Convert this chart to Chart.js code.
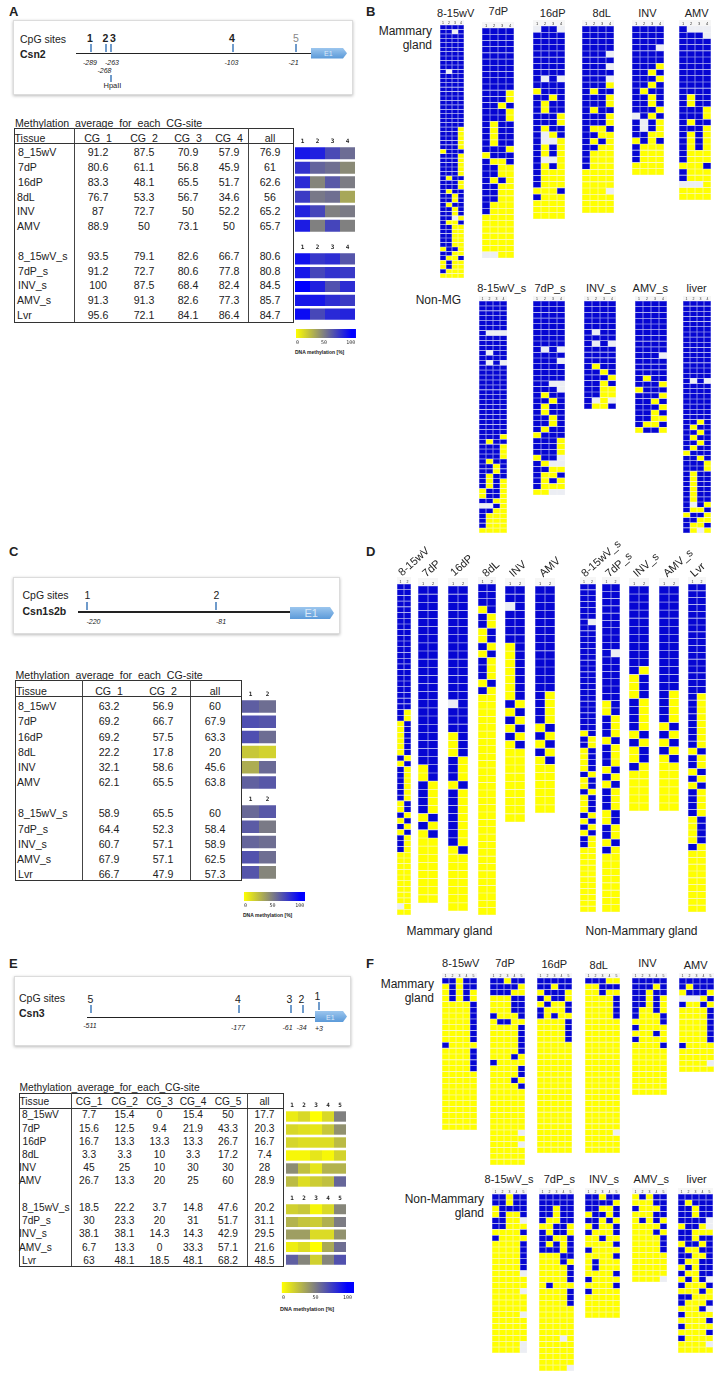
<!DOCTYPE html>
<html>
<head>
<meta charset="utf-8">
<script src="https://cdn.jsdelivr.net/npm/chart.js@4"></script>
<style>
  html, body { margin: 0; padding: 0; background: #fff; }
  #page { position: relative; width: 719px; height: 1376px; overflow: hidden; font-family: "Liberation Sans", Arial, sans-serif; color: #222; }
  #page div, #page canvas, #page svg { position: absolute; }
  .t { white-space: nowrap; line-height: 1; }
  .box { background: #fff; border: 1px solid #dcdcdc; box-shadow: 0 1px 3px #bbb; box-sizing: border-box; }
</style>
</head>
<body>
<div id="page"></div>
<script>
// Tissues used in the three summary tables
const tissues = ['8_15wV', '7dP', '16dP', '8dL', 'INV', 'AMV', '8_15wV_s', '7dP_s', 'INV_s', 'AMV_s', 'Lvr'];

// Csn2 averages
const csn2Cg1 = [91.2, 80.6, 83.3, 76.7, 87, 88.9, 93.5, 91.2, 100, 91.3, 95.6];
const csn2Cg2 = [87.5, 61.1, 48.1, 53.3, 72.7, 50, 79.1, 72.7, 87.5, 91.3, 72.1];
const csn2Cg3 = [70.9, 56.8, 65.5, 56.7, 50, 73.1, 82.6, 80.6, 68.4, 82.6, 84.1];
const csn2Cg4 = [57.9, 45.9, 51.7, 34.6, 52.2, 50, 66.7, 77.8, 82.4, 77.3, 86.4];
const csn2All = [76.9, 61, 62.6, 56, 65.2, 65.7, 80.6, 80.8, 84.5, 85.7, 84.7];

// Csn1s2b averages
const csn1Cg1 = [63.2, 69.2, 69.2, 22.2, 32.1, 62.1, 58.9, 64.4, 60.7, 67.9, 66.7];
const csn1Cg2 = [56.9, 66.7, 57.5, 17.8, 58.6, 65.5, 65.5, 52.3, 57.1, 57.1, 47.9];
const csn1All = [60, 67.9, 63.3, 20, 45.6, 63.8, 60, 58.4, 58.9, 62.5, 57.3];

// Csn3 averages
const csn3Cg1 = [7.7, 15.6, 16.7, 3.3, 45, 26.7, 18.5, 30, 38.1, 6.7, 63];
const csn3Cg2 = [15.4, 12.5, 13.3, 3.3, 25, 13.3, 22.2, 23.3, 38.1, 13.3, 48.1];
const csn3Cg3 = [0, 9.4, 13.3, 10, 10, 20, 3.7, 20, 14.3, 0, 18.5];
const csn3Cg4 = [15.4, 21.9, 13.3, 3.3, 30, 25, 14.8, 31, 14.3, 33.3, 48.1];
const csn3Cg5 = [50, 43.3, 26.7, 17.2, 30, 60, 47.6, 51.7, 42.9, 57.1, 68.2];
const csn3All = [17.7, 20.3, 16.7, 7.4, 28, 28.9, 20.2, 31.1, 29.5, 21.6, 48.5];

// Clone tables, top row first: B methylated, Y unmethylated, W no call, *n = n rows alike
const b_8_15wV = ['BBBB','BBWB','BBBB*8','BWBB','BBBB*12','BBBY*5','YBBB','BBBY*5','BYBB','BBBY*2','BYBB','BBYB*2','BYBB','BBYB*2','BBWY','BYYB','BBYY*5','YBBY','BBYY','BYYB','YBYY*2','BYYY','YYYY'];
const b_7dP = ['BBBB*10','BBBY*2','BBYB','BBBY*2','BYBB*4','BBBY','YBBB','BYYB','BBYY*2','BYBY','BBYY*3','BYYY*2','YYYY*6','WWYY'];
const b_16dP = ['WBBW','BBBB*7','BWBW','BBBB','YBBB','BBYB','BYBB*2','BBBY*2','BYBB','BWYB','BWWY','BYBY*2','BWWY','BYBY','BYYY*3','YYYB','BYYY','YYYY*3'];
const b_8dL = ['BBBB*4','BBBW','BBBB','BBBW','BBBB','BBBW','BBBY','BYBB','BBBY*2','BYBB','BBBY*2','BYYB','BBYY','BYBY','BBYY','BYYY*3','YYYY*3','YYYW','YYYY*3'];
const b_INV = ['BBBB*3','BBBW','BBBB*2','BBBY','BBYB','BBBY','BBYB','BYBB','BBYB*2','BBBY','WBYB','BWBY*2','BBYY','YBYB','BYYY*3','YYYY*2'];
const b_AMV = ['BWWW','BBBW','BBBB*9','BYBB*2','BBBY*2','BYBB','BBBY','BYBY*3','BYYY*2','YYYB','BYYY*2','WWWY','YYYY*2'];
const b_8_15wV_s = ['BBBB*6','BWWW','BBBB*3','BWBB','BBBB','BWBW','BBBB*14','BBBY','BYBB','BBBY*3','BYBB','BBYB*2','BYBB','BYBY*2','YBBY*2','BBYY','WWBY','BBYY','BYYY*3','YYYY'];
const b_7dP_s = ['BBBB*8','BWBW','BBBB','BBBW','BBBB*3','BBWW','BBBW','BYBB','BBYB','BYBB*2','BBYB*2','BYBB','YBBB','BBBY*3','YBBW','BYWW','BBYY','BYYB','BYBY','BYYY','YYWW'];
const b_INV_s = ['BBBB*5','BWBB','BBBB','BWBW','BBBB*3','BYBB','BBYB','BBBY','BBYB','BBYY*2','BWYW','BYYB'];
const b_AMV_s = ['BBBB*9','BBBW','BBBB*3','BYBB','BBBY','YBBB','BBBY','BBYB','BBBY','BBYB','BBYY','BYYB','YBBY'];
const b_liver = ['BBBB*15','BWBW','BBBB*7','BBYB','BYBB','BBYB','BYBB','BBYB','BYBB','YBBB','BBYB','BBBY*2','BYBB*6','BWBY','BYYB','YBBY','BBYY','BYYB','BYWY'];

const d_8_15wV = ['BB*22','BY*2','YB*6','BY','YB','BY*6','YB*2','BY','YB','BY','YB','BY*3','YY*9','WY','YY'];
const d_7dP = ['BB*22','YB*2','BY*4','YB','BY','YB','YY*8'];
const d_16dP = ['BB*14','WB','BB*3','YB*3','BY*3','YB','BY*7','YB','YY*7'];
const d_8dL = ['BB*3','YB','BY*2','YB*2','BY','YB','BY*3','YB','BY','YY*30'];
const d_INV = ['BB*2','WB','BB*4','YB*7','BY','YB','BY','YB','BY','YB','YY*9'];
const d_AMV = ['BB*13','BY*4','YB','BY','YB','BY','YB','YY*6'];
const d_8_15wV_s = ['BB*6','BW','BB*18','YB','BY*2','YB*4','BY','YB*2','BY','YB*3','BY','YB','BY','YB','BY*2','YY*11'];
const d_7dP_s = ['BB*9','BW','BB*6','YB*2','BY*3','YB','BY*3','YB','BY','YB','BY*3','YB*2','BY*2','YB','BY','YY*8'];
const d_INV_s = ['BB*10','BY','YB*3','BY*4','YB','BY','YB*2','BY','YY*5'];
const d_AMV_s = ['BB*13','BY*4','YB','BY','YB','BY','YB','YY*6'];
const d_Lvr = ['BB*16','BY*8','YB','BY*2','YB','BY','YB','BY*4','YB*4','BY','YY*9'];

const f_8_15wV = ['BBYBB','YBYBB','YBYBY*2','YYYYB*7','BYYYY','YYYYB*4','YYYYY*10'];
const f_7dP = ['BBYBB','BBBBY','BBBYY','YYYBB*3','BYYYB','YBBYY','YYYYB*5','YYYBY','BYYYY','YYYYB*2','YYYBY','YYYYB','YYYYY*7','YYYYW','YYYYY','YYYYW','YYYYY*3'];
const f_16dP = ['BBBBB','BBYBB','YBBBY','BYBBY','YBYYB','BYYYB','BYBYY','YYYYB*4','YYYYY*19'];
const f_8dL = ['BBBYY','YYBBB','YYBYY','YYYYB*4','YYYYY*19','YYYYW','YYYYY*3'];
const f_INV = ['BBBBB','BBBYB','BBYBB','BBYBY*2','BYYBY','BYYYB','YYYYB','BYYYY','YYYBY','BYYYY','YYYYB','YYYYY*8'];
const f_AMV = ['BBBBB','BYBBB','YBBBY','WWWYB','BYYBY','YYYYB*6','BYYYY','YYYYY*2','YYYYW','YYYYY'];
const f_8_15wV_s = ['BBYBB*2','YBBBB','YBYYB','BBYYW','BBYYY','YYYYB','BYYYY','YYYYB*5','YYYYW','YYYYY*2','YYYYW','YYYYY*3','YYYYW','YYYYY*4','YYYYW*2'];
const f_7dP_s = ['BBBBB*2','BBYBB*2','BYYBB','YYBBY','BYBBY','BBYYB','BYBYB','BBBYB','YYYBB','YYYBY','YYYYB*3','YBYYY','YYYYB*3','YYYYY*5','YYYWY','YYYYY*4','YYYYW'];
const f_INV_s = ['BBYBB','BBBBY','BBYYB','YBBYB','BBYBY','YBYYB','BYYYB','YYBYY','YYYYB','BYYYY','YYYYB','YBYYY*2','YYYYB','BYYYY','YYYYB','BYYYY','YYYYY*4'];
const f_AMV_s = ['YBYBB','YYYBB','BYYYB','YYYBB','YBYBY','YYYYB','YYYBY','YYYYB*3','YYYYY*4','YYYYW'];
const f_liver = ['BBBBB','BYBBB','BBYBB*2','BBBBW','YBBYW','BBYYY','BBYBB','YBBYB','BYYBB','BBYYB','BYYBB','YBYBB','BYYBB','YBYBW','BYYYB','YYYBY','BBYYY','BYYYB','YYYBW','BYYYY','YYYYB','BYYYY','YYYYB','BYYYY','YYYYW','YYYYY'];

const sites2 = ['1', '2'];
const sites4 = ['1', '2', '3', '4'];
const sites5 = ['1', '2', '3', '4', '5'];
const legendTicks = [0, 50, 100];

const page = document.getElementById('page');
const stateColors = { B: '#0606d2', Y: '#ffff00', W: '#eceef4' };
const stateLines = { B: '#8a90f0', Y: '#fbfb90', W: '#eceef4' };

function label(x, y, text, o = {}) {
  const d = document.createElement('div');
  d.className = 't';
  d.textContent = text;
  d.style.left = x + 'px';
  d.style.top = y + 'px';
  d.style.fontSize = (o.size || 11) + 'px';
  if (o.bold) d.style.fontWeight = 'bold';
  if (o.italic) d.style.fontStyle = 'italic';
  if (o.color) d.style.color = o.color;
  const dx = o.align === 'center' ? '-50%' : o.align === 'right' ? '-100%' : '0';
  if (o.rotate) {
    d.style.transformOrigin = 'left center';
    d.style.transform = `translateY(-50%) rotate(${o.rotate}deg)`;
  } else {
    d.style.transform = `translate(${dx}, -50%)`;
  }
  page.appendChild(d);
}

function rect(x, y, w, h, color, cls) {
  const d = document.createElement('div');
  if (cls) d.className = cls; else d.style.background = color;
  d.style.left = x + 'px';
  d.style.top = y + 'px';
  d.style.width = w + 'px';
  d.style.height = h + 'px';
  page.appendChild(d);
}

function makeCanvas(x0, x1, y0, y1) {
  const c = document.createElement('canvas');
  const w = Math.round(x1 - x0), h = Math.round(y1 - y0);
  c.width = w;
  c.height = h;
  c.style.left = Math.round(x0) + 'px';
  c.style.top = Math.round(y0) + 'px';
  c.style.width = w + 'px';
  c.style.height = h + 'px';
  page.appendChild(c);
  return c;
}

const quiet = {
  responsive: false,
  animation: false,
  events: [],
  layout: { padding: 0 },
  plugins: { legend: { display: false }, tooltip: { enabled: false } }
};

// Clone table: one floating-bar dataset per state, each bar spans one row on the y scale
function cloneChart(rows, sites, x0, x1, y0, y1, hdr, hdrFont) {
  const list = rows.flatMap(r => {
    const [p, n] = r.split('*');
    return Array(Number(n || 1)).fill(p);
  });
  const datasets = Object.keys(stateColors).map(state => {
    const data = [];
    list.forEach((row, r) => {
      [...row].forEach((s, i) => {
        if (s === state) data.push({ x: sites[i], y: [r, r + 1] });
      });
    });
    return {
      data, grouped: false, backgroundColor: stateColors[state],
      borderColor: stateLines[state], borderWidth: 0.3, borderSkipped: false, inflateAmount: 0,
      barPercentage: 1, categoryPercentage: 1
    };
  });
  const c = makeCanvas(x0, x1, y0 - hdr, y1);
  c.style.background = '#f6f6f6';
  new Chart(c, {
    type: 'bar',
    data: { labels: sites, datasets },
    options: {
      ...quiet,
      scales: {
        x: {
          position: 'top',
          grid: { display: false, drawTicks: false },
          border: { display: false },
          afterFit: s => { s.height = hdr; },
          ticks: { font: { size: hdrFont }, color: '#333', padding: 0, autoSkip: false, maxRotation: 0 }
        },
        y: { display: false, reverse: true, min: 0, max: list.length }
      }
    }
  });
}

function methylColor(v) {
  const mid = 128;
  const mix = (a, b, t) => Math.round(a + (b - a) * t);
  if (v <= 50) {
    const t = v / 50;
    return `rgb(${mix(255, mid, t)},${mix(255, mid, t)},${mix(0, mid, t)})`;
  }
  const t = (v - 50) / 50;
  return `rgb(${mix(mid, 0, t)},${mix(mid, 0, t)},${mix(mid, 255, t)})`;
}

// Heat strip beside a table: rows are tissues, columns are CG sites
function heatChart(columns, sites, from, to, x0, x1, y0, y1, hdr) {
  const data = [], colors = [];
  columns.forEach((col, i) => {
    col.slice(from, to).forEach((v, r) => {
      data.push({ x: sites[i], y: [r, r + 1] });
      colors.push(methylColor(v));
    });
  });
  new Chart(makeCanvas(x0, x1, y0 - hdr, y1), {
    type: 'bar',
    data: {
      labels: sites,
      datasets: [{
        data, backgroundColor: colors, borderColor: '#fff',
        borderWidth: { top: 1.3, bottom: 1.3, left: 0, right: 0 }, borderSkipped: false, inflateAmount: 0,
        barPercentage: 1, categoryPercentage: 1
      }]
    },
    options: {
      ...quiet,
      scales: {
        x: {
          position: 'top',
          grid: { display: false, drawTicks: false },
          border: { display: false },
          afterFit: s => { s.height = hdr; },
          ticks: { font: { size: 6, weight: 'bold', family: 'DejaVu Sans Mono' }, color: '#222', padding: 1, autoSkip: false, maxRotation: 0 }
        },
        y: { display: false, reverse: true, min: 0, max: to - from }
      }
    }
  });
}

// Colour key: one bar along a linear axis that runs a little past 0 and 100
function keyChart(x0, x1, y0, y1) {
  const c = makeCanvas(x0, x1, y0, y1 + 9);
  const barW = Math.round(x1 - x0);
  const lo = -3, hi = 110;
  const grad = c.getContext('2d').createLinearGradient(0, 0, barW, 0);
  legendTicks.forEach(v => grad.addColorStop((v - lo) / (hi - lo), methylColor(v)));
  grad.addColorStop(0, methylColor(0));
  grad.addColorStop(1, methylColor(100));
  new Chart(c, {
    type: 'bar',
    data: { labels: [''], datasets: [{ data: [[lo, hi]], backgroundColor: grad, barPercentage: 1, categoryPercentage: 1, inflateAmount: 0 }] },
    options: {
      ...quiet,
      indexAxis: 'y',
      scales: {
        x: {
          min: lo, max: hi,
          grid: { display: false, drawTicks: false },
          border: { display: false },
          afterFit: s => { s.height = 9; },
          afterBuildTicks: s => { s.ticks = legendTicks.map(value => ({ value })); },
          ticks: { font: { size: 5, family: 'DejaVu Sans Mono' }, color: '#333', padding: 2, autoSkip: false, maxRotation: 0 }
        },
        y: { display: false }
      }
    }
  });
}

function summaryTable(t) {
  label(t.titleX, t.titleY, 'Methylation_average_for_each_CG-site', { size: t.size });
  const [l, r, top, bot] = t.frame;
  rect(l, top, r - l, 1, '#333');
  rect(l, bot, r - l + 1, 1, '#333');
  rect(l, top, 1, bot - top, '#333');
  rect(r, top, 1, bot - top, '#333');
  t.vlines.forEach(x => rect(x, top, 1, bot - top, '#444'));
  rect(l, t.headLine, r - l, 1, '#333');
  label(l + 1, t.headY, 'Tissue', { size: t.size });
  t.headers.forEach((h, i) => label(t.centers[i], t.headY, h, { size: t.size, align: 'center' }));
  tissues.forEach((name, r0) => {
    label(t.nameX[r0], t.rowY[r0], name, { size: t.size });
    t.columns.forEach((col, i) => label(t.centers[i], t.rowY[r0], String(col[r0]), { size: t.size, align: 'center' }));
  });
}

function geneBox(g) {
  rect(g.box[0], g.box[1], g.box[2] - g.box[0], g.box[3] - g.box[1], null, 'box');
  label(g.textX, g.cpgY, 'CpG sites', { size: 10.5 });
  label(g.textX, g.geneY, g.gene, { size: 10.5, bold: true });
  rect(g.line[0], g.line[1], g.line[2] - g.line[0], g.line[3], '#222');
  g.sites.forEach(s => {
    rect(s.x - 1, s.t0, 2, s.t1 - s.t0, '#6f9bcb');
    label(s.nx, s.ny, s.n, { size: 10.5, bold: g.boldSites && s.n !== '5', color: s.n === '5' && g.boldSites ? '#888' : '#222', align: 'center' });
  });
  g.pos.forEach(p => label(p[0], p[1], p[2], { size: 7, italic: true, align: 'center' }));
  const [ax0, ax1, ay0, ay1] = g.exon;
  const w = ax1 - ax0, h = ay1 - ay0;
  const ns = 'http://www.w3.org/2000/svg';
  const svg = document.createElementNS(ns, 'svg');
  svg.setAttribute('width', w);
  svg.setAttribute('height', h);
  svg.style.left = ax0 + 'px';
  svg.style.top = ay0 + 'px';
  const id = 'ex' + g.gene;
  svg.innerHTML = `<defs><linearGradient id="${id}" x1="0" y1="0" x2="0" y2="1"><stop offset="0" stop-color="#9cc6ee"/><stop offset="1" stop-color="#5b9ad9"/></linearGradient></defs>`
    + `<polygon fill="url(#${id})" points="0,0 ${w - 4},0 ${w},${h / 2} ${w - 4},${h} 0,${h}"/>`;
  page.appendChild(svg);
  label(ax0 + w * 0.48, (ay0 + ay1) / 2, 'E1', { size: g.exonFont, align: 'center', color: '#dce9f8' });
}

// ---- panel letters ----
[['A', 9, 11], ['B', 366, 11], ['C', 9, 551], ['D', 366, 551], ['E', 9, 963], ['F', 366, 963]]
  .forEach(p => label(p[1], p[2], p[0], { size: 13, bold: true }));

// ---- gene diagrams ----
geneBox({
  gene: 'Csn2', box: [13, 20, 353, 95], textX: 20, cpgY: 38.5, geneY: 53.5, boldSites: true,
  line: [76, 53, 312, 1], exon: [311, 347, 48, 58.5], exonFont: 7,
  sites: [
    { n: '1', x: 90.5, t0: 44, t1: 52, nx: 90, ny: 37.5 },
    { n: '2', x: 106, t0: 44, t1: 52, nx: 105.5, ny: 37.5 },
    { n: '3', x: 111, t0: 44, t1: 52, nx: 113, ny: 37.5 },
    { n: '4', x: 232.5, t0: 44, t1: 52, nx: 232, ny: 37.5 },
    { n: '5', x: 295.5, t0: 44, t1: 52, nx: 296, ny: 37.5 }
  ],
  pos: [[90, 61.5, '-289'], [112, 61.5, '-263'], [104.5, 69.5, '-268'], [231.5, 61.5, '-103'], [293.5, 61.5, '-21']]
});
rect(110, 75, 2, 7, '#6f9bcb');
label(112.5, 85.7, 'HpaII', { size: 7.5, align: 'center' });

geneBox({
  gene: 'Csn1s2b', box: [13, 577, 340, 634], textX: 22.5, cpgY: 595, geneY: 611,
  line: [78, 611, 291, 2], exon: [290, 334, 606.5, 618.5], exonFont: 11,
  sites: [
    { n: '1', x: 87, t0: 602, t1: 610, nx: 87.5, ny: 595 },
    { n: '2', x: 216, t0: 602, t1: 610, nx: 216.5, ny: 595 }
  ],
  pos: [[93.5, 621, '-220'], [221, 621, '-81']]
});

geneBox({
  gene: 'Csn3', box: [14, 976, 351, 1046], textX: 19, cpgY: 998, geneY: 1013,
  line: [87, 1017, 316, 1], exon: [315, 347, 1011, 1022], exonFont: 7,
  sites: [
    { n: '5', x: 91, t0: 1005, t1: 1013, nx: 90.5, ny: 999 },
    { n: '4', x: 239, t0: 1005, t1: 1013, nx: 238, ny: 999 },
    { n: '3', x: 290.5, t0: 1005, t1: 1013, nx: 289.5, ny: 999 },
    { n: '2', x: 302.5, t0: 1005, t1: 1013, nx: 301.5, ny: 999 },
    { n: '1', x: 318.5, t0: 1002, t1: 1010, nx: 317.5, ny: 996 }
  ],
  pos: [[90, 1024.5, '-511'], [238, 1026.5, '-177'], [287.5, 1026.5, '-61'], [301.5, 1026.5, '-34'], [319, 1028, '+3']]
});

// ---- summary tables ----
summaryTable({
  size: 10.6, titleX: 15, titleY: 123, frame: [13.5, 293, 128, 322], vlines: [74, 248], headLine: 143, headY: 137.5,
  headers: ['CG_1', 'CG_2', 'CG_3', 'CG_4', 'all'], centers: [98, 144, 188, 229, 270],
  columns: [csn2Cg1, csn2Cg2, csn2Cg3, csn2Cg4, csn2All],
  nameX: [18, 18, 18, 17, 17, 17, 18, 18, 18, 17, 17],
  rowY: [152, 167, 182, 197, 211, 226, 256, 271, 285, 300, 315]
});
summaryTable({
  size: 10.6, titleX: 15.5, titleY: 674.5, frame: [15, 240.5, 680, 880], vlines: [81.5, 189.5], headLine: 696, headY: 690.5,
  headers: ['CG_1', 'CG_2', 'all'], centers: [109, 163, 215],
  columns: [csn1Cg1, csn1Cg2, csn1All],
  nameX: [18, 18, 18, 18, 18, 17, 18, 18, 18, 17, 18],
  rowY: [706, 721, 736.5, 752, 767, 782, 813, 828.5, 844, 859, 874]
});
summaryTable({
  size: 10.2, titleX: 19.5, titleY: 1088, frame: [18.5, 282.5, 1093, 1266], vlines: [71, 246.5], headLine: 1107.5, headY: 1102,
  headers: ['CG_1', 'CG_2', 'CG_3', 'CG_4', 'CG_5', 'all'], centers: [89, 124.5, 159.5, 193, 228, 264.5],
  columns: [csn3Cg1, csn3Cg2, csn3Cg3, csn3Cg4, csn3Cg5, csn3All],
  nameX: [22, 22, 22.5, 22, 19, 19, 22, 22, 19, 19, 22],
  rowY: [1115, 1128.5, 1141.5, 1155, 1168, 1181, 1208, 1221, 1234, 1247.5, 1260.5]
});

// ---- heat strips and colour keys ----
const csn2Columns = [csn2Cg1, csn2Cg2, csn2Cg3, csn2Cg4];
const csn1Columns = [csn1Cg1, csn1Cg2];
const csn3Columns = [csn3Cg1, csn3Cg2, csn3Cg3, csn3Cg4, csn3Cg5];
heatChart(csn2Columns, sites4, 0, 6, 295, 355, 145.5, 232, 8);
heatChart(csn2Columns, sites4, 6, 11, 295, 355, 251.5, 320.5, 8);
heatChart(csn1Columns, sites2, 0, 6, 242, 276, 698.5, 789, 8);
heatChart(csn1Columns, sites2, 6, 11, 242, 276, 803.5, 879.5, 8);
heatChart(csn3Columns, sites5, 0, 6, 286, 346, 1109.5, 1187, 8);
heatChart(csn3Columns, sites5, 6, 11, 286, 346, 1203, 1265.5, 8);
keyChart(294, 357, 329, 338);
keyChart(242, 306, 892, 901);
keyChart(280, 354, 1282, 1293);
label(295, 352, 'DNA methylation [%]', { size: 5, bold: true });
label(243, 915, 'DNA methylation [%]', { size: 5, bold: true });
label(280, 1309.5, 'DNA methylation [%]', { size: 5.5, bold: true });

// ---- clone tables ----
cloneChart(b_8_15wV, sites4, 440, 464, 25, 278, 5, 3.5);
cloneChart(b_7dP, sites4, 482, 514, 28, 258, 6, 4);
cloneChart(b_16dP, sites4, 533, 565, 26, 219, 6, 4);
cloneChart(b_8dL, sites4, 582, 614, 26, 213, 6, 4);
cloneChart(b_INV, sites4, 632, 664, 26, 175, 6, 4);
cloneChart(b_AMV, sites4, 679, 711, 26, 200, 6, 4);
cloneChart(b_8_15wV_s, sites4, 479, 507, 301, 533, 5, 3.5);
cloneChart(b_7dP_s, sites4, 533, 565, 301, 495, 5, 3.5);
cloneChart(b_INV_s, sites4, 584, 616, 301, 409, 5, 3.5);
cloneChart(b_AMV_s, sites4, 635, 667, 301, 433, 5, 3.5);
cloneChart(b_liver, sites4, 683, 711, 301, 533, 5, 3.5);

cloneChart(d_8_15wV, sites2, 397, 411, 584, 915, 7, 3.5);
cloneChart(d_7dP, sites2, 418, 438, 586, 903, 8, 4);
cloneChart(d_16dP, sites2, 448, 468, 586, 911, 8, 4);
cloneChart(d_8dL, sites2, 478, 496, 584, 915, 7, 4);
cloneChart(d_INV, sites2, 505, 525, 586, 822, 8, 4);
cloneChart(d_AMV, sites2, 535, 555, 586, 813, 8, 4);
cloneChart(d_8_15wV_s, sites2, 580, 596, 584, 912, 7, 3.5);
cloneChart(d_7dP_s, sites2, 602, 620, 584, 912, 7, 3.5);
cloneChart(d_INV_s, sites2, 629, 649, 586, 811, 8, 4);
cloneChart(d_AMV_s, sites2, 659, 679, 586, 811, 8, 4);
cloneChart(d_Lvr, sites2, 688, 706, 584, 912, 7, 3.5);

cloneChart(f_8_15wV, sites5, 442, 477, 978, 1130, 5, 3.5);
cloneChart(f_7dP, sites5, 490, 525, 978, 1165, 5, 3.5);
cloneChart(f_16dP, sites5, 537, 572, 978, 1153, 5, 3.5);
cloneChart(f_8dL, sites5, 585, 620, 978, 1153, 5, 3.5);
cloneChart(f_INV, sites5, 632, 667, 978, 1095, 5, 3.5);
cloneChart(f_AMV, sites5, 679, 714, 978, 1072, 5, 3.5);
cloneChart(f_8_15wV_s, sites5, 492, 527, 1194, 1353, 6, 3.5);
cloneChart(f_7dP_s, sites5, 539, 574, 1194, 1371, 6, 3.5);
cloneChart(f_INV_s, sites5, 585, 620, 1194, 1318, 6, 3.5);
cloneChart(f_AMV_s, sites5, 632, 667, 1194, 1282, 6, 3.5);
cloneChart(f_liver, sites5, 678, 713, 1194, 1353, 6, 3.5);

// ---- clone table titles ----
[['8-15wV', 455.7, 13], ['7dP', 498.3, 11], ['16dP', 552.7, 13], ['8dL', 601.7, 13], ['INV', 647.3, 13], ['AMV', 696.7, 13],
 ['8-15wV_s', 501.7, 288], ['7dP_s', 550, 288], ['INV_s', 601, 288], ['AMV_s', 650.3, 288], ['liver', 696.7, 288],
 ['8-15wV', 460.7, 963], ['7dP', 505, 963], ['16dP', 554.3, 964], ['8dL', 598.7, 965], ['INV', 647.3, 963], ['AMV', 695.7, 965],
 ['8-15wV_s', 509, 1179], ['7dP_s', 559.3, 1179], ['INV_s', 604, 1179], ['AMV_s', 651.3, 1179], ['liver', 696.7, 1179]]
  .forEach(t => label(t[1], t[2], t[0], { size: 11, align: 'center' }));

[['8-15wV', 399.5, 574], ['7dP', 424, 575], ['16dP', 452, 574], ['8dL', 484, 575], ['INV', 511, 575], ['AMV', 541, 575],
 ['8-15wV_s', 583, 575], ['7dP_s', 607, 575], ['INV_s', 635, 575], ['AMV_s', 665, 575], ['Lvr', 692, 575]]
  .forEach(t => label(t[1], t[2], t[0], { size: 11, rotate: -42 }));

[['Mammary', 432, 31], ['gland', 432, 45], ['Non-MG', 461, 299.5], ['Mammary', 434, 983.5], ['gland', 434, 997.5],
 ['Non-Mammary', 484, 1199], ['gland', 484, 1213]]
  .forEach(t => label(t[1], t[2], t[0], { size: 12, align: 'right' }));
label(449.5, 931, 'Mammary gland', { size: 12, align: 'center' });
label(641.5, 931, 'Non-Mammary gland', { size: 12, align: 'center' });
</script>
</body>
</html>
